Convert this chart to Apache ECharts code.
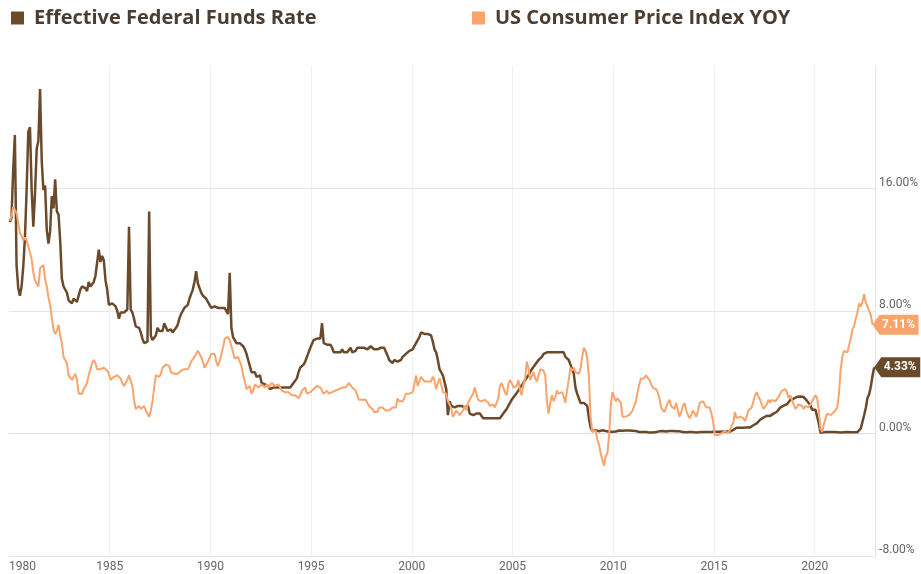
<!DOCTYPE html>
<html>
<head>
<meta charset="utf-8">
<script src="https://cdn.jsdelivr.net/npm/echarts@6/dist/echarts.min.js"></script>
<style>
  html, body { margin: 0; padding: 0; background: #fff; }
  #chart { width: 921px; height: 574px; }
</style>
</head>
<body>
<div id="chart"></div>
<script>
const startYear = 1980
const seriesNames = ["Effective Federal Funds Rate", "US Consumer Price Index YOY"]

// monthly values, one row per year, Jan..Dec
const ffrMonthly = [
  13.8, 14.1, 17.2, 19.5, 11.0, 9.5, 9.0, 9.6, 10.9, 12.8, 15.9, 19.7,   // 1980
  20.0, 15.9, 13.5, 15.7, 18.6, 19.1, 22.5, 17.8, 15.9, 16.2, 13.3, 12.4, // 1981
  13.2, 15.5, 14.7, 16.6, 14.5, 14.3, 12.6, 10.1, 9.6, 9.7, 9.2, 8.7,    // 1982
  8.7, 8.5, 8.8, 8.8, 8.6, 9.0, 9.4, 9.6, 9.5, 9.5, 9.3, 9.9,            // 1983
  9.6, 9.6, 9.9, 10.3, 10.3, 12.0, 11.2, 11.6, 11.3, 10.0, 9.4, 8.4,     // 1984
  8.4, 8.5, 8.6, 8.3, 8.0, 7.5, 7.9, 7.9, 7.9, 8.0, 8.1, 13.5,           // 1985
  8.1, 7.9, 7.5, 7.0, 6.9, 6.9, 6.6, 6.2, 5.9, 5.9, 6.0, 14.5,           // 1986
  6.4, 6.1, 6.1, 6.4, 6.9, 6.7, 6.6, 6.7, 7.2, 7.3, 6.7, 6.8,            // 1987
  6.8, 6.6, 6.6, 6.9, 7.1, 7.5, 7.8, 8.0, 8.2, 8.3, 8.4, 8.8,            // 1988
  9.1, 9.4, 9.9, 10.6, 9.8, 9.5, 9.2, 9.0, 9.0, 8.8, 8.6, 8.5,           // 1989
  8.2, 8.2, 8.3, 8.3, 8.2, 8.3, 8.2, 8.1, 8.2, 8.1, 7.8, 10.5,           // 1990
  6.9, 6.3, 6.1, 5.9, 5.8, 5.9, 5.8, 5.7, 5.5, 5.2, 4.8, 4.4,            // 1991
  4.0, 4.1, 4.0, 3.7, 3.8, 3.8, 3.3, 3.3, 3.2, 3.1, 3.1, 2.9,            // 1992
  3.0, 3.0, 3.1, 3.0, 3.0, 3.0, 3.1, 3.0, 3.1, 3.0, 3.0, 3.0,            // 1993
  3.1, 3.3, 3.3, 3.6, 4.0, 4.3, 4.3, 4.5, 4.7, 4.8, 5.3, 5.6,            // 1994
  5.7, 6.1, 6.1, 6.2, 6.1, 6.2, 7.2, 5.9, 5.9, 5.8, 5.9, 5.8,            // 1995
  5.6, 5.3, 5.4, 5.3, 5.3, 5.3, 5.5, 5.3, 5.4, 5.3, 5.4, 5.6,            // 1996
  5.3, 5.3, 5.4, 5.6, 5.5, 5.6, 5.5, 5.6, 5.6, 5.5, 5.6, 5.7,            // 1997
  5.6, 5.5, 5.5, 5.5, 5.5, 5.6, 5.6, 5.6, 5.6, 5.1, 4.8, 4.7,            // 1998
  4.6, 4.8, 4.8, 4.7, 4.7, 4.8, 5.0, 5.1, 5.2, 5.2, 5.4, 5.3,            // 1999
  5.5, 5.7, 5.9, 6.0, 6.3, 6.6, 6.5, 6.5, 6.5, 6.5, 6.5, 6.4,            // 2000
  6.0, 5.5, 5.3, 4.8, 4.2, 4.0, 3.8, 3.7, 2.9, 1.2, 2.1, 1.8,            // 2001
  1.7, 1.7, 1.7, 1.8, 1.8, 1.8, 1.7, 1.7, 1.8, 1.8, 1.3, 1.2,            // 2002
  1.2, 1.3, 1.3, 1.3, 1.3, 1.2, 1.0, 1.0, 1.0, 1.0, 1.0, 1.0,            // 2003
  1.0, 1.0, 1.0, 1.0, 1.0, 1.0, 1.3, 1.4, 1.6, 1.8, 1.9, 2.2,            // 2004
  2.3, 2.5, 2.6, 2.8, 3.0, 3.0, 3.3, 3.5, 3.6, 3.8, 4.0, 4.2,            // 2005
  4.3, 4.5, 4.6, 4.8, 4.9, 5.0, 5.2, 5.3, 5.3, 5.3, 5.3, 5.3,            // 2006
  5.3, 5.3, 5.3, 5.3, 5.3, 5.3, 5.3, 5.0, 4.9, 4.8, 4.5, 4.2,            // 2007
  3.9, 3.0, 2.6, 2.3, 2.0, 2.0, 2.0, 2.0, 1.8, 1.0, 0.4, 0.16,           // 2008
  0.15, 0.22, 0.18, 0.15, 0.18, 0.21, 0.16, 0.16, 0.15, 0.12, 0.12, 0.12, // 2009
  0.11, 0.13, 0.16, 0.20, 0.20, 0.18, 0.18, 0.19, 0.19, 0.19, 0.19, 0.18, // 2010
  0.17, 0.16, 0.14, 0.10, 0.09, 0.09, 0.07, 0.10, 0.08, 0.07, 0.08, 0.07, // 2011
  0.08, 0.10, 0.13, 0.14, 0.16, 0.16, 0.16, 0.13, 0.14, 0.16, 0.16, 0.16, // 2012
  0.14, 0.15, 0.14, 0.15, 0.11, 0.09, 0.09, 0.08, 0.08, 0.09, 0.08, 0.09, // 2013
  0.07, 0.07, 0.08, 0.09, 0.09, 0.10, 0.09, 0.09, 0.09, 0.09, 0.09, 0.12, // 2014
  0.11, 0.11, 0.11, 0.12, 0.12, 0.13, 0.13, 0.14, 0.14, 0.12, 0.12, 0.24, // 2015
  0.34, 0.38, 0.36, 0.37, 0.37, 0.38, 0.39, 0.40, 0.40, 0.40, 0.41, 0.54, // 2016
  0.65, 0.66, 0.79, 0.90, 0.91, 1.04, 1.15, 1.16, 1.15, 1.15, 1.16, 1.30, // 2017
  1.41, 1.42, 1.51, 1.69, 1.70, 1.82, 1.91, 1.91, 1.95, 2.19, 2.20, 2.27, // 2018
  2.40, 2.40, 2.41, 2.42, 2.39, 2.38, 2.40, 2.13, 2.04, 1.83, 1.55, 1.55, // 2019
  1.55, 1.58, 0.65, 0.05, 0.05, 0.08, 0.09, 0.10, 0.09, 0.09, 0.09, 0.09, // 2020
  0.09, 0.08, 0.07, 0.07, 0.06, 0.08, 0.10, 0.09, 0.08, 0.08, 0.08, 0.08, // 2021
  0.08, 0.08, 0.20, 0.33, 0.77, 1.21, 1.68, 2.33, 2.56, 3.08, 3.78, 4.33  // 2022
]

const cpiMonthly = [
  13.9, 14.2, 14.8, 14.7, 14.4, 14.4, 13.1, 12.9, 12.6, 12.8, 12.6, 12.5, // 1980
  11.8, 11.4, 10.5, 10.0, 9.8, 9.6, 10.8, 10.8, 11.0, 10.1, 9.6, 8.9,     // 1981
  8.4, 7.6, 6.8, 6.5, 6.7, 7.1, 6.4, 5.9, 5.0, 5.1, 4.6, 3.8,            // 1982
  3.7, 3.5, 3.6, 3.9, 3.5, 2.6, 2.5, 2.6, 2.9, 2.9, 3.3, 3.8,            // 1983
  4.2, 4.6, 4.8, 4.6, 4.2, 4.2, 4.2, 4.3, 4.3, 4.3, 4.1, 3.9,            // 1984
  3.5, 3.5, 3.7, 3.7, 3.8, 3.8, 3.6, 3.3, 3.1, 3.2, 3.5, 3.8,            // 1985
  3.9, 3.1, 2.2, 1.6, 1.5, 1.8, 1.6, 1.6, 1.8, 1.5, 1.3, 1.1,            // 1986
  1.5, 2.1, 3.0, 3.8, 3.9, 3.7, 3.9, 4.3, 4.4, 4.5, 4.5, 4.4,            // 1987
  4.0, 3.9, 3.9, 3.9, 3.9, 4.0, 4.1, 4.0, 4.2, 4.2, 4.2, 4.4,            // 1988
  4.7, 4.8, 5.0, 5.1, 5.4, 5.2, 5.0, 4.7, 4.3, 4.5, 4.7, 4.6,            // 1989
  5.2, 5.3, 5.2, 4.7, 4.4, 4.7, 4.8, 5.6, 6.2, 6.3, 6.3, 6.1,            // 1990
  5.7, 5.3, 4.9, 4.9, 5.0, 4.7, 4.4, 3.8, 3.4, 2.9, 3.0, 3.1,            // 1991
  2.6, 2.8, 3.2, 3.2, 3.0, 3.1, 3.2, 3.1, 3.0, 3.2, 3.0, 2.9,            // 1992
  3.3, 3.2, 3.1, 3.2, 3.2, 3.0, 2.8, 2.8, 2.7, 2.8, 2.7, 2.7,            // 1993
  2.5, 2.5, 2.5, 2.4, 2.3, 2.5, 2.8, 2.9, 3.0, 2.6, 2.7, 2.7,            // 1994
  2.8, 2.9, 2.9, 3.1, 3.2, 3.0, 2.8, 2.6, 2.5, 2.8, 2.6, 2.5,            // 1995
  2.7, 2.7, 2.8, 2.9, 2.9, 2.8, 3.0, 2.9, 3.0, 3.0, 3.3, 3.3,            // 1996
  3.0, 3.0, 2.8, 2.5, 2.2, 2.3, 2.2, 2.2, 2.2, 2.1, 1.8, 1.7,            // 1997
  1.6, 1.4, 1.4, 1.4, 1.7, 1.7, 1.7, 1.6, 1.5, 1.5, 1.5, 1.6,            // 1998
  1.7, 1.6, 1.7, 2.3, 2.1, 2.0, 2.1, 2.3, 2.6, 2.6, 2.6, 2.7,            // 1999
  2.7, 3.2, 3.8, 3.1, 3.2, 3.7, 3.7, 3.4, 3.5, 3.4, 3.4, 3.4,            // 2000
  3.7, 3.5, 2.9, 3.3, 3.6, 3.2, 2.7, 2.7, 2.6, 2.1, 1.9, 1.6,            // 2001
  1.1, 1.1, 1.5, 1.6, 1.2, 1.1, 1.5, 1.8, 1.5, 2.0, 2.2, 2.4,            // 2002
  2.6, 3.0, 3.0, 2.2, 2.1, 2.1, 2.1, 2.2, 2.3, 2.0, 1.8, 1.9,            // 2003
  1.9, 1.7, 1.7, 2.3, 3.1, 3.3, 3.0, 2.7, 2.5, 3.2, 3.5, 3.3,            // 2004
  3.0, 3.0, 3.1, 3.5, 2.8, 2.5, 3.2, 3.6, 4.7, 4.3, 3.5, 3.4,            // 2005
  4.0, 3.6, 3.4, 3.5, 4.2, 4.3, 4.1, 3.8, 2.1, 1.3, 2.0, 2.5,            // 2006
  2.1, 2.4, 2.8, 2.6, 2.7, 2.7, 2.4, 2.0, 2.8, 3.5, 4.3, 4.1,            // 2007
  4.3, 4.0, 4.0, 3.9, 4.2, 5.0, 5.6, 5.4, 4.9, 3.7, 1.1, 0.1,            // 2008
  0.0, 0.2, -0.4, -0.7, -1.3, -1.4, -2.1, -1.5, -1.3, -0.2, 1.8, 2.7,    // 2009
  2.6, 2.1, 2.3, 2.2, 2.0, 1.1, 1.2, 1.1, 1.1, 1.2, 1.1, 1.5,            // 2010
  1.6, 2.1, 2.7, 3.2, 3.6, 3.6, 3.6, 3.8, 3.9, 3.5, 3.4, 3.0,            // 2011
  2.9, 2.9, 2.7, 2.3, 1.7, 1.7, 1.4, 1.7, 2.0, 2.2, 1.8, 1.7,            // 2012
  1.6, 2.0, 1.5, 1.1, 1.4, 1.8, 2.0, 1.5, 1.2, 1.0, 1.2, 1.5,            // 2013
  1.6, 1.1, 1.5, 2.0, 2.1, 2.1, 2.0, 1.7, 1.7, 1.7, 1.3, 0.8,            // 2014
  -0.1, 0.0, -0.1, -0.2, 0.0, 0.1, 0.2, 0.2, 0.0, 0.2, 0.5, 0.7,         // 2015
  1.4, 1.0, 0.9, 1.1, 1.0, 1.0, 0.8, 1.1, 1.5, 1.6, 1.7, 2.1,            // 2016
  2.5, 2.7, 2.4, 2.2, 1.9, 1.6, 1.7, 1.9, 2.2, 2.0, 2.2, 2.1,            // 2017
  2.1, 2.2, 2.4, 2.5, 2.8, 2.9, 2.9, 2.7, 2.3, 2.5, 2.2, 1.9,            // 2018
  1.6, 1.5, 1.9, 2.0, 1.8, 1.6, 1.8, 1.7, 1.7, 1.8, 2.1, 2.3,            // 2019
  2.5, 2.3, 1.5, 0.3, 0.1, 0.6, 1.0, 1.3, 1.4, 1.2, 1.2, 1.4,            // 2020
  1.4, 1.7, 2.6, 4.2, 5.0, 5.4, 5.4, 5.3, 5.4, 6.2, 6.8, 7.0,            // 2021
  7.5, 7.9, 8.5, 8.3, 8.6, 9.1, 8.5, 8.3, 8.2, 7.7, 7.11                  // 2022 (to Nov)
]

const xTickStep = 5
const yTicks = [-8, 0, 8, 16, 24]

const brown = "#6b4a2b"
const orange = "#f8a46c"

const toPoints = (vals) => vals.map((v, i) => [startYear + (i + 0.5) / 12, v])

const ffrData = toPoints(ffrMonthly)
const cpiData = toPoints(cpiMonthly)

const tagPath = "path://M0,10 L7,0 L46,0 L46,20 L7,20 Z"

const endTag = (points, color) => {
  const last = points[points.length - 1]
  return {
    silent: true,
    symbol: tagPath,
    symbolSize: [46, 20],
    symbolKeepAspect: false,
    symbolOffset: [23, 0],
    itemStyle: { color: color },
    label: {
      show: true,
      position: "inside",
      offset: [3, 0],
      color: "#fff",
      fontFamily: "Roboto",
      fontWeight: "bold",
      fontSize: 12,
      formatter: (p) => p.value.toFixed(2) + "%"
    },
    data: [{ coord: last, value: last[1] }]
  }
}

const legendText = {
  color: "#4b3d31",
  fontFamily: "Open Sans",
  fontWeight: "bold",
  fontSize: 20,
  padding: [0, 0, 0, 5]
}

const myChart = echarts.init(document.getElementById("chart"), null, { renderer: "canvas" })

myChart.setOption({
  animation: false,
  backgroundColor: "#fff",
  legend: [
    {
      data: [seriesNames[0]],
      left: 6, top: 3,
      icon: "rect", itemWidth: 13, itemHeight: 13,
      textStyle: legendText,
      selectedMode: false
    },
    {
      data: [seriesNames[1]],
      left: 467, top: 3,
      icon: "rect", itemWidth: 13, itemHeight: 13,
      textStyle: legendText,
      selectedMode: false
    }
  ],
  grid: {
    left: 9,
    right: 45,
    top: 66,
    bottom: 18
  },
  xAxis: {
    type: "value",
    min: startYear,
    max: 2023,
    interval: xTickStep,
    axisLine: { show: true, lineStyle: { color: "#dddddd" } },
    axisTick: { show: false },
    axisLabel: {
      color: "#666",
      fontFamily: "Roboto",
      fontSize: 12,
      margin: 5,
      alignMinLabel: "left",
      formatter: (v) => (v % xTickStep === 0 ? String(v) : "")
    },
    splitLine: {
      show: true,
      showMinLine: false,
      lineStyle: { color: "#efefef" }
    }
  },
  yAxis: {
    type: "value",
    position: "right",
    min: yTicks[0],
    max: yTicks[yTicks.length - 1],
    interval: 8,
    axisLine: { show: true, lineStyle: { color: "#e3e3e3" } },
    axisTick: { show: false },
    axisLabel: {
      color: "#666",
      fontFamily: "Roboto",
      fontSize: 12,
      margin: 4,
      verticalAlign: "bottom",
      formatter: (v) => (v >= yTicks[yTicks.length - 1] ? "" : v.toFixed(2) + "%")
    },
    splitLine: {
      show: true,
      showMaxLine: false,
      lineStyle: { color: "#e6e6e6" }
    }
  },
  series: [
    {
      name: seriesNames[0],
      type: "line",
      data: ffrData,
      showSymbol: false,
      color: brown,
      lineStyle: { color: brown, width: 2.5 },
      markPoint: endTag(ffrData, brown)
    },
    {
      name: seriesNames[1],
      type: "line",
      data: cpiData,
      showSymbol: false,
      color: orange,
      lineStyle: { color: orange, width: 2 },
      markPoint: endTag(cpiData, orange)
    }
  ]
})

window.addEventListener("resize", () => {
  myChart.resize()
})
</script>
</body>
</html>
